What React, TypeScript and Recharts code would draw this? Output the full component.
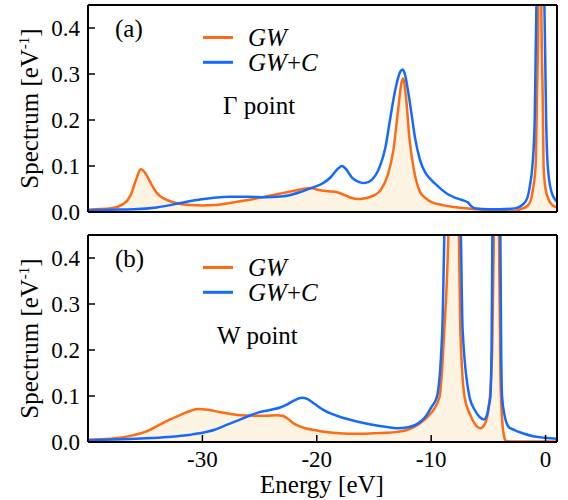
import { ComposedChart, Area, Line, XAxis, YAxis } from "recharts";

const FONT = "Liberation Serif";
const ORANGE = "#ff6a12";
const BLUE = "#1569ff";
const FILL = "#fdf3e3";

const energyTicks = [-30, -20, -10, 0];
const spectrumTicks = [0, 0.1, 0.2, 0.3, 0.4];

// [energy eV, spectrum 1/eV]; peaks above 0.45 are clipped
const gammaGw: [number, number][] = [
  [-40, 0.005], [-38, 0.008], [-37, 0.016], [-36.3, 0.035], [-35.8, 0.07], [-35.4, 0.093],
  [-35.0, 0.085], [-34.5, 0.062], [-34, 0.042], [-33, 0.025], [-32, 0.018], [-31, 0.015],
  [-30, 0.014], [-29, 0.015], [-28, 0.018], [-27, 0.022], [-26, 0.026], [-25, 0.031],
  [-24, 0.036], [-23, 0.041], [-22, 0.046], [-21, 0.051], [-20.5, 0.052], [-20, 0.049],
  [-19, 0.045], [-18.2, 0.043], [-17.5, 0.036], [-17, 0.031], [-16.4, 0.028], [-15.8, 0.03],
  [-15, 0.036], [-14.4, 0.048], [-13.8, 0.08], [-13.3, 0.135], [-12.9, 0.22], [-12.6, 0.28],
  [-12.45, 0.29], [-12.2, 0.25], [-11.9, 0.16], [-11.5, 0.09], [-11, 0.045], [-10.5, 0.03],
  [-10, 0.022], [-9, 0.015], [-8, 0.011], [-7, 0.008], [-6, 0.006], [-5, 0.004], [-4, 0.002],
  [-3, 0.001], [-2.2, 0.006], [-1.6, 0.013], [-1.3, 0.025], [-1.1, 0.05], [-0.87, 0.1],
  [-0.75, 0.25], [-0.63, 0.45], [-0.5, 1.2], [-0.37, 0.45], [-0.25, 0.25], [-0.17, 0.1],
  [0, 0.05], [0.3, 0.025], [0.6, 0.015], [1, 0.01],
];

const gammaGwc: [number, number][] = [
  [-40, 0.004], [-38, 0.005], [-36, 0.006], [-34, 0.01], [-32, 0.019], [-30.5, 0.026],
  [-29, 0.031], [-27.5, 0.033], [-26, 0.033], [-24.5, 0.032], [-23.5, 0.033], [-22.5, 0.036],
  [-21.5, 0.043], [-20.5, 0.052], [-19.5, 0.062], [-18.8, 0.075], [-18.2, 0.093], [-17.8, 0.1],
  [-17.4, 0.092], [-16.9, 0.074], [-16.3, 0.065], [-15.8, 0.063], [-15.2, 0.07], [-14.5, 0.098],
  [-14, 0.14], [-13.6, 0.2], [-13.1, 0.27], [-12.7, 0.305], [-12.5, 0.31], [-12.3, 0.3],
  [-12, 0.26], [-11.7, 0.21], [-11.4, 0.16], [-11, 0.115], [-10.5, 0.085], [-10, 0.07],
  [-9.5, 0.058], [-9, 0.047], [-8.5, 0.038], [-8, 0.032], [-7.3, 0.026], [-6.8, 0.021],
  [-6.5, 0.013], [-6.2, 0.008], [-5, 0.006], [-4, 0.006], [-3, 0.007], [-2.5, 0.009],
  [-2, 0.016], [-1.6, 0.03], [-1.35, 0.06], [-1.15, 0.1], [-0.95, 0.2], [-0.8, 0.45],
  [-0.45, 1.5], [-0.1, 0.45], [0.05, 0.2], [0.19, 0.1], [0.5, 0.045], [0.86, 0.026], [1, 0.022],
];

const wGw: [number, number][] = [
  [-40, 0.005], [-38, 0.007], [-36, 0.015], [-35, 0.022], [-34, 0.034], [-33, 0.047],
  [-32, 0.058], [-31, 0.068], [-30.4, 0.072], [-29.5, 0.07], [-28.5, 0.065], [-27.5, 0.061],
  [-26.5, 0.058], [-25.5, 0.057], [-24.5, 0.057], [-23.5, 0.058], [-23, 0.057], [-22.5, 0.05],
  [-22, 0.04], [-21.5, 0.034], [-21, 0.03], [-20, 0.025], [-19, 0.021], [-18, 0.019],
  [-17, 0.018], [-16, 0.018], [-15, 0.019], [-14, 0.02], [-13, 0.022], [-12, 0.027],
  [-11, 0.04], [-10.3, 0.055], [-9.8, 0.07], [-9.27, 0.098], [-8.85, 0.243], [-8.5, 0.45],
  [-8.05, 1.2], [-7.57, 0.45], [-7.45, 0.243], [-7.08, 0.098], [-6.6, 0.06], [-6.2, 0.04],
  [-5.7, 0.03], [-5.3, 0.04], [-5, 0.07], [-4.8, 0.12], [-4.65, 0.22], [-4.52, 0.45],
  [-4.3, 1.2], [-4.07, 0.45], [-3.95, 0.15], [-3.8, 0.05], [-3.6, 0.01], [-3.5, 0.003],
  [-3, 0.001], [-2, 0.001], [0, 0.001], [1, 0.001],
];

const wGwc: [number, number][] = [
  [-40, 0.004], [-37, 0.006], [-35, 0.008], [-33, 0.011], [-31, 0.016], [-30, 0.02],
  [-29, 0.026], [-28, 0.036], [-27, 0.046], [-26, 0.056], [-25, 0.065], [-24, 0.07],
  [-23.2, 0.075], [-22.5, 0.083], [-22, 0.09], [-21.3, 0.096], [-20.8, 0.093], [-20.2, 0.083],
  [-19.5, 0.071], [-18.8, 0.062], [-18, 0.055], [-17, 0.048], [-16, 0.042], [-15, 0.037],
  [-14, 0.033], [-13, 0.03], [-12, 0.032], [-11, 0.043], [-10.5, 0.055], [-10, 0.075],
  [-9.5, 0.098], [-9.03, 0.243], [-8.85, 0.45], [-8.1, 1.5], [-7.4, 0.45], [-7.25, 0.243],
  [-6.65, 0.098], [-6.2, 0.07], [-5.8, 0.055], [-5.4, 0.049], [-5.1, 0.06], [-4.95, 0.08],
  [-4.83, 0.098], [-4.72, 0.2], [-4.65, 0.45], [-4.3, 1.5], [-3.95, 0.45], [-3.88, 0.2],
  [-3.8, 0.098], [-3.6, 0.06], [-3.23, 0.033], [-2.8, 0.027], [-2, 0.019], [-1, 0.012],
  [0, 0.009], [1, 0.007],
];

const toRows = (pts: [number, number][]) => pts.map(([e, s]) => ({ e, s }));

const axisLine = { stroke: "#000", strokeWidth: 2 };
const tickLine = { stroke: "#000", strokeWidth: 1.5 };
const tickFont = { fill: "#000", fontSize: 23, fontFamily: FONT };

function Panel({ gw, gwc, tag, point, bottom }: any) {
  const h = bottom ? 270 : 230;
  const midY = 5 + (h - (bottom ? 58 : 18) - 5) / 2;
  return (
    <ComposedChart width={568} height={h} margin={{ top: 0, right: 0, bottom: 0, left: 0 }}>
      <XAxis
        xAxisId="b"
        dataKey="e"
        type="number"
        domain={[-40, 1]}
        ticks={energyTicks}
        allowDataOverflow
        height={bottom ? 58 : 18}
        axisLine={axisLine}
        tickLine={tickLine}
        tickSize={-7}
        tickMargin={16}
        tick={bottom ? tickFont : false}
      />
      <XAxis
        xAxisId="t"
        orientation="top"
        dataKey="e"
        type="number"
        domain={[-40, 1]}
        ticks={energyTicks}
        allowDataOverflow
        height={5}
        axisLine={axisLine}
        tickLine={tickLine}
        tickSize={-7}
        tick={false}
      />
      <YAxis
        yAxisId="l"
        type="number"
        domain={[0, 0.45]}
        ticks={spectrumTicks}
        allowDataOverflow
        width={88}
        axisLine={axisLine}
        tickLine={tickLine}
        tickSize={-7}
        tickMargin={15}
        tick={tickFont}
        tickFormatter={(v: number) => v.toFixed(1)}
      />
      <YAxis
        yAxisId="r"
        orientation="right"
        type="number"
        domain={[0, 0.45]}
        ticks={spectrumTicks}
        allowDataOverflow
        width={11}
        axisLine={axisLine}
        tickLine={tickLine}
        tickSize={-7}
        tick={false}
      />
      <Area
        xAxisId="b"
        yAxisId="l"
        data={gw}
        dataKey="s"
        type="monotone"
        stroke="none"
        fill={FILL}
        fillOpacity={1}
        isAnimationActive={false}
      />
      <Line
        xAxisId="b"
        yAxisId="l"
        data={gw}
        dataKey="s"
        type="monotone"
        stroke={ORANGE}
        strokeWidth={2.5}
        dot={false}
        isAnimationActive={false}
      />
      <Line
        xAxisId="b"
        yAxisId="l"
        data={gwc}
        dataKey="s"
        type="monotone"
        stroke={BLUE}
        strokeWidth={2.5}
        dot={false}
        isAnimationActive={false}
      />
      <g fontFamily={FONT} fontSize={25} fill="#000">
        <text x={115} y={37}>{tag}</text>
        <line x1={203} x2={233} y1={37.5} y2={37.5} stroke={ORANGE} strokeWidth={3} />
        <text x={248} y={46} fontStyle="italic">GW</text>
        <line x1={203} x2={233} y1={62.3} y2={62.3} stroke={BLUE} strokeWidth={3} />
        <text x={248} y={71}>
          <tspan fontStyle="italic">GW</tspan>+<tspan fontStyle="italic">C</tspan>
        </text>
        <text x={point === "W point" ? 217 : 223} y={114}>{point}</text>
        <text x={38} y={midY} textAnchor="middle" transform={`rotate(-90, 38, ${midY})`}>
          Spectrum [eV<tspan fontSize={15} dy={-9}>-1</tspan>
          <tspan dy={9}>]</tspan>
        </text>
        {bottom && (
          <text x={322} y={263} textAnchor="middle">Energy [eV]</text>
        )}
      </g>
    </ComposedChart>
  );
}

export default function App() {
  return (
    <div style={{ position: "absolute", left: 0, top: 0, width: 568, height: 500, background: "#fff" }}>
      <Panel gw={toRows(gammaGw)} gwc={toRows(gammaGwc)} tag="(a)" point="Γ point" />
      <Panel gw={toRows(wGw)} gwc={toRows(wGwc)} tag="(b)" point="W point" bottom />
    </div>
  );
}
